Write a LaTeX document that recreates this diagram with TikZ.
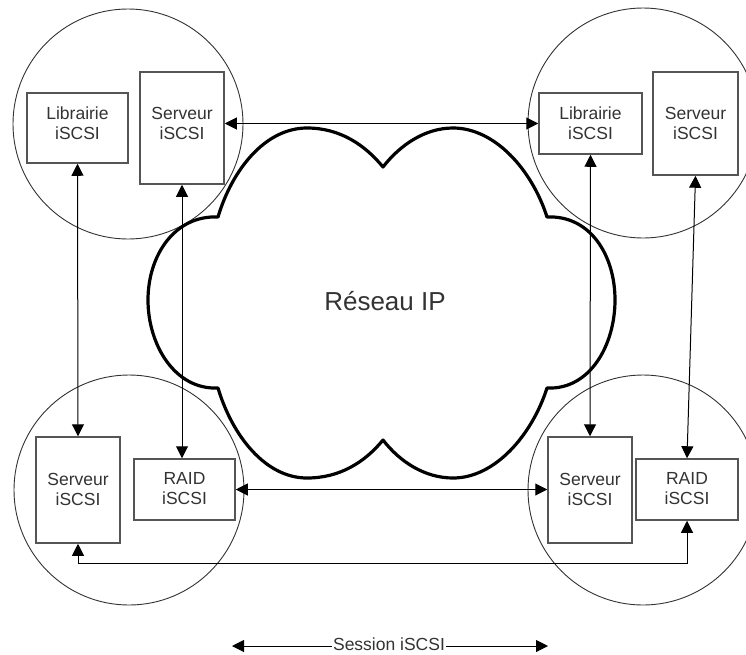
\documentclass[tikz,border=0pt]{standalone}
\usepackage{fontspec}
\setmainfont{Liberation Sans}
\usetikzlibrary{arrows.meta}
\definecolor{inkgray}{HTML}{333333}
\definecolor{boxgray}{HTML}{555555}
\begin{document}
\begin{tikzpicture}[x=1pt,y=-1pt,
  site/.style={draw=inkgray,line width=0.9pt},
  unit/.style={draw=boxgray,line width=1.5pt,fill=white,inner sep=0pt},
  unitlabel/.style={text=inkgray,align=center,inner sep=0pt,
    font=\fontsize{17.5}{20}\selectfont},
  link/.style={draw=black,line width=1pt,
    {Triangle[length=12pt,width=12pt]}-{Triangle[length=12pt,width=12pt]}},
  oneway/.style={draw=black,line width=1pt,-{Triangle[length=12pt,width=12pt]}},
  cloudline/.style={draw=black,line width=3.2pt,fill=white,line join=round}
]
\useasboundingbox (0,0) rectangle (746,654);

% four sites
\draw[site] (128,124) circle[radius=115];
\draw[site] (643,123) circle[radius=115];
\draw[site] (129,490) circle[radius=115];
\draw[site] (643,490) circle[radius=115];

% the IP network cloud
\draw[cloudline]
  (218,217) .. controls (232,170) and (265,128) .. (307,128)
            .. controls (340,128) and (365,145) .. (383,167)
            .. controls (400,145) and (425,128) .. (453,128)
            .. controls (495,128) and (532,170) .. (547,217)
            .. controls (590,215) and (615,255) .. (615,300)
            .. controls (615,345) and (590,390) .. (547,388)
            .. controls (532,435) and (495,478) .. (453,478)
            .. controls (425,478) and (400,462) .. (383,440)
            .. controls (365,462) and (340,478) .. (307,478)
            .. controls (265,478) and (232,435) .. (218,388)
            .. controls (175,390) and (148,345) .. (148,300)
            .. controls (148,255) and (175,215) .. (218,217) -- cycle;
\node[text=inkgray,inner sep=0pt,font=\fontsize{26}{30}\selectfont] (net) at (385,301) {Réseau IP};

% boxes
\node[unit,minimum width=101pt,minimum height=70pt] (tlLib) at (77.5,128) {};
\node[unit,minimum width=84pt,minimum height=112pt] (tlSrv) at (182,128) {};
\node[unit,minimum width=103pt,minimum height=61pt] (trLib) at (590.5,123.5) {};
\node[unit,minimum width=85pt,minimum height=103pt] (trSrv) at (695.5,123.5) {};
\node[unit,minimum width=84pt,minimum height=106pt] (blSrv) at (78,490) {};
\node[unit,minimum width=101pt,minimum height=61pt] (blRaid) at (184.5,489.5) {};
\node[unit,minimum width=84pt,minimum height=106pt] (brSrv) at (590,490) {};
\node[unit,minimum width=102pt,minimum height=61pt] (brRaid) at (687,489.5) {};

% box texts
\node[unitlabel] (tlLibT) at (77.5,123) {Librairie\\iSCSI};
\node[unitlabel] (tlSrvT) at (182,123) {Serveur\\iSCSI};
\node[unitlabel] (trLibT) at (590.5,123) {Librairie\\iSCSI};
\node[unitlabel] (trSrvT) at (695.5,123) {Serveur\\iSCSI};
\node[unitlabel] (blSrvT) at (78,489) {Serveur\\iSCSI};
\node[unitlabel] (blRaidT) at (184.5,489) {RAID\\iSCSI};
\node[unitlabel] (brSrvT) at (590,489) {Serveur\\iSCSI};
\node[unitlabel] (brRaidT) at (687,489) {RAID\\iSCSI};

% iSCSI sessions
\draw[link] (tlSrv.east |- trLib.west) -- (trLib.west);
\draw[link] (blRaid.east) -- (brSrv.west |- blRaid.east);
\draw[link] (tlLib.south) -- (blSrv.north);
\draw[link] (tlSrv.south) -- (tlSrv.south |- blRaid.north);
\draw[link] (trLib.south) -- (brSrv.north);
\draw[link] (trSrv.south) -- (brRaid.north);
\draw[link] (blSrv.south) -- ++(0,20) -| (brRaid.south);

% legend
\node[text=inkgray,inner sep=1pt,font=\fontsize{17.5}{20}\selectfont] (sess) at (389,644) {Session iSCSI};
\coordinate (sessL) at (232,646);
\coordinate (sessR) at (548,646);
\draw[oneway] (sess.west |- sessL) -- (sessL);
\draw[oneway] (sess.east |- sessR) -- (sessR);
\end{tikzpicture}
\end{document}
